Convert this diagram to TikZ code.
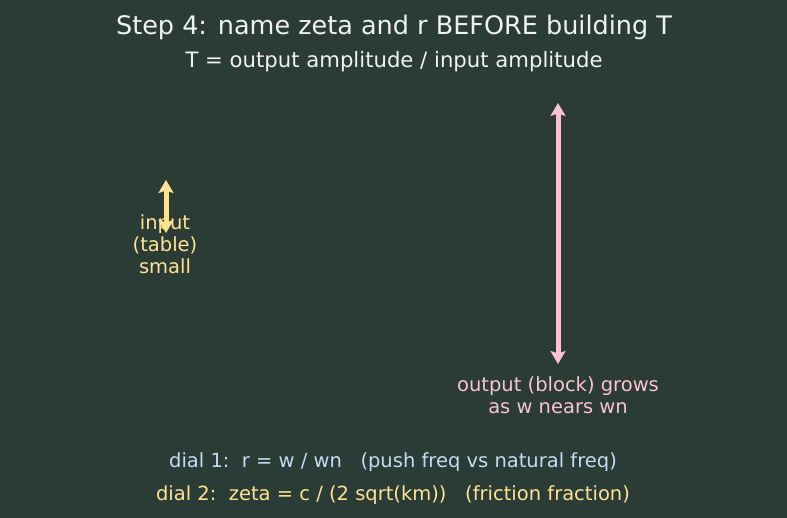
\documentclass[tikz,border=0pt]{standalone}
\usepackage{fontspec}
\setmainfont{DejaVu Sans}
\usetikzlibrary{arrows.meta}
\definecolor{bg}{HTML}{2B3B35}
\definecolor{titlec}{HTML}{EEF3EC}
\definecolor{yel}{HTML}{FFE394}
\definecolor{pink}{HTML}{F9C3CF}
\definecolor{lblue}{HTML}{C3DDF2}
\tikzset{
  txt/.style={inner sep=0pt, align=center, font=\fontsize{19.5}{22}\selectfont},
  amp/.style={line width=5pt, {Stealth[length=13pt,width=15pt,inset=2.5pt]}-{Stealth[length=13pt,width=15pt,inset=2.5pt]}}
}
\begin{document}
\begin{tikzpicture}[x=1pt,y=-1pt]
\fill[bg] (0,0) rectangle (787,518);
\useasboundingbox (0,0) rectangle (787,518);
\node[txt, text=titlec, font=\fontsize{25.5}{28}\selectfont] (title) at (394,27) {Step 4: name zeta and r BEFORE building T};
\node[txt, text=titlec, font=\fontsize{21.2}{24}\selectfont] (sub) at (394,62) {T = output amplitude / input amplitude};
\node[txt, text=yel] (inlab) at (165,244) {input\\(table)\\small};
\coordinate (inTop) at (166,180);
\coordinate (inBot) at (166,233);
\draw[amp, yel] (inTop) -- (inBot);
\coordinate (outTop) at (558,103);
\coordinate (outBot) at (558,364);
\draw[amp, pink] (outTop) -- (outBot);
\node[txt, text=pink] (outlab) at (558,395) {output (block) grows\\as w nears wn};
\node[txt, text=lblue] (d1) at (393,462) {dial 1:\ \ r = w / wn\ \ \ (push freq vs natural freq)};
\node[txt, text=yel] (d2) at (393,495) {dial 2:\ \ zeta = c / (2 sqrt(km))\ \ \ (friction fraction)};
\end{tikzpicture}
\end{document}
